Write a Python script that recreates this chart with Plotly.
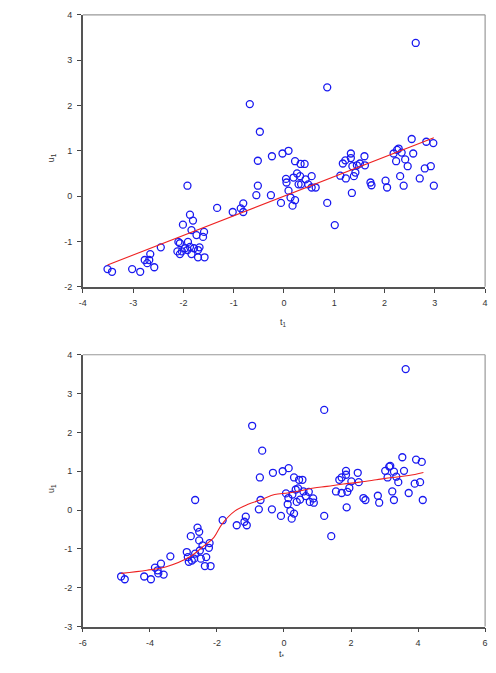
import plotly.graph_objects as go

# ---- Top panel data ----
top_x = [-3.51, -3.42, -3.02, -2.86, -2.77, -2.72, -2.68, -2.66, -2.58, -2.45,
         -2.10, -2.07, -2.12, -2.07, -2.01, -1.92, -1.87, -1.81, -1.84, -1.91,
         -1.87, -1.92, -1.84, -1.79, -1.74, -1.71, -1.71, -1.68, -1.61, -1.59,
         -1.58, -1.97, -2.03, -1.33, -1.02, -0.86, -0.81, -0.81, -0.68, -0.48,
         -0.52, -0.52, -0.55, -0.26, -0.24, -0.06, -0.03, 0.09, 0.04, 0.05,
         0.09, 0.13, 0.17, 0.22, 0.19, 0.22, 0.26, 0.29, 0.32, 0.33,
         0.41, 0.34, 0.43, 0.48, 0.55, 0.55, 0.63, 0.86, 0.86, 1.01,
         1.12, 1.17, 1.22, 1.23, 1.33, 1.33, 1.35, 1.36, 1.39, 1.42,
         1.45, 1.51, 1.60, 1.61, 1.72, 1.74, 2.02, 2.05, 2.18, 2.23,
         2.25, 2.28, 2.31, 2.34, 2.38, 2.41, 2.46, 2.54, 2.57, 2.62,
         2.70, 2.80, 2.83, 2.92, 2.97, 2.98]
top_y = [-1.61, -1.67, -1.61, -1.67, -1.41, -1.48, -1.41, -1.28, -1.57, -1.13,
         -1.01, -1.04, -1.22, -1.28, -0.63, 0.23, -0.41, -0.54, -0.75, -1.01,
         -1.12, -1.19, -1.28, -1.15, -0.86, -1.19, -1.35, -1.13, -0.90, -0.79,
         -1.35, -1.15, -1.22, -0.26, -0.35, -0.27, -0.16, -0.35, 2.03, 1.42,
         0.78, 0.23, 0.02, 0.02, 0.88, -0.15, 0.94, 1.00, 0.38, 0.30,
         0.12, -0.03, -0.21, -0.09, 0.41, 0.77, 0.50, 0.26, 0.44, 0.71,
         0.71, 0.26, 0.37, 0.26, 0.44, 0.19, 0.19, 2.40, -0.15, -0.64,
         0.45, 0.72, 0.79, 0.39, 0.94, 0.84, 0.07, 0.66, 0.44, 0.52,
         0.68, 0.72, 0.88, 0.68, 0.30, 0.24, 0.34, 0.19, 0.94, 0.77,
         1.02, 1.05, 0.44, 0.96, 0.23, 0.81, 0.66, 1.26, 0.94, 3.38,
         0.39, 0.61, 1.20, 0.66, 1.17, 0.23]
top_line_x = [-3.51, 2.98]
top_line_y = [-1.52, 1.29]

# ---- Bottom panel data ----
bot_x = [-4.86, -4.75, -4.17, -3.97, -3.85, -3.77, -3.75, -3.67, -3.59, -3.39,
         -2.90, -2.87, -2.84, -2.78, -2.65, -2.65, -2.58, -2.53, -2.53, -2.51,
         -2.48, -2.43, -2.36, -2.32, -2.24, -2.22, -2.19, -2.68, -2.75, -1.83,
         -1.41, -1.18, -1.14, -1.11, -0.95, -0.65, -0.72, -0.70, -0.75, -0.36,
         -0.33, -0.09, -0.04, 0.14, 0.06, 0.13, 0.11, 0.19, 0.23, 0.30,
         0.30, 0.25, 0.35, 0.38, 0.42, 0.45, 0.48, 0.55, 0.58, 0.65,
         0.74, 0.77, 0.87, 0.89, 1.20, 1.20, 1.41, 1.55, 1.65, 1.72,
         1.72, 1.85, 1.85, 1.87, 1.89, 1.95, 2.01, 2.20, 2.23, 2.37,
         2.43, 2.80, 2.84, 3.02, 3.09, 3.14, 3.17, 3.23, 3.28, 3.28,
         3.35, 3.41, 3.53, 3.58, 3.63, 3.72, 3.90, 3.94, 4.06, 4.11, 4.14]
bot_y = [-1.71, -1.78, -1.71, -1.78, -1.48, -1.55, -1.63, -1.38, -1.66, -1.19,
         -1.08, -1.21, -1.33, -0.67, 0.26, -1.12, -0.45, -0.56, -0.78, -1.04,
         -1.25, -0.91, -1.44, -1.21, -0.97, -0.85, -1.44, -1.25, -1.30, -0.26,
         -0.39, -0.30, -0.17, -0.39, 2.17, 1.53, 0.84, 0.26, 0.02, 0.02,
         0.96, -0.15, 1.00, 1.08, 0.43, 0.31, 0.15, -0.02, -0.22, -0.09,
         0.84, 0.40, 0.53, 0.21, 0.56, 0.78, 0.27, 0.78, 0.48, 0.36,
         0.47, 0.21, 0.30, 0.19, 2.58, -0.15, -0.67, 0.48, 0.78, 0.84,
         0.44, 1.01, 0.91, 0.07, 0.47, 0.57, 0.74, 0.96, 0.72, 0.31,
         0.26, 0.37, 0.19, 1.01, 0.84, 1.12, 1.14, 0.48, 0.99, 0.26,
         0.86, 0.72, 1.36, 1.01, 3.63, 0.44, 0.68, 1.30, 0.72, 1.24, 0.26]
bot_line_x = [-4.86, -4.09, -3.51, -2.82, -2.43, -2.09, -1.85, -1.46, -1.07, -0.67,
              -0.28, 0.11, 0.50, 0.89, 1.28, 1.77, 2.26, 2.75, 3.23, 3.72, 4.16]
bot_line_y = [-1.63, -1.55, -1.46, -1.21, -0.95, -0.70, -0.36, -0.02, 0.15, 0.27,
              0.40, 0.44, 0.50, 0.57, 0.61, 0.67, 0.72, 0.78, 0.84, 0.89, 0.97]

top_xticks = [-4, -3, -2, -1, 0, 1, 2, 3, 4]
top_yticks = [-2, -1, 0, 1, 2, 3, 4]
bot_xticks = [-6, -4, -2, 0, 2, 4, 6]
bot_yticks = [-3, -2, -1, 0, 1, 2, 3, 4]

W, H = 496, 673
xdom = [80 / W, 488 / W]
top_ydom = [1 - 286 / H, 1 - 10 / H]
bot_ydom = [1 - 631 / H, 1 - 355 / H]

marker = dict(symbol="circle-open", size=7, color="#1a1af0", line=dict(width=1.3))
line = dict(color="#ee2222", width=1.1)

fig = go.Figure()
fig.add_trace(go.Scatter(x=top_x, y=top_y, mode="markers", marker=marker, xaxis="x", yaxis="y"))
fig.add_trace(go.Scatter(x=top_line_x, y=top_line_y, mode="lines", line=line, xaxis="x", yaxis="y"))
fig.add_trace(go.Scatter(x=bot_x, y=bot_y, mode="markers", marker=marker, xaxis="x2", yaxis="y2"))
fig.add_trace(go.Scatter(x=bot_line_x, y=bot_line_y, mode="lines",
                         line=dict(color="#ee2222", width=1.1, shape="spline"),
                         xaxis="x2", yaxis="y2"))

tickfont = dict(family="Liberation Sans, Arial", size=9, color="#333")


def ax(ticks, rng, dom, anchor):
    return dict(domain=dom, range=rng, anchor=anchor, tickvals=ticks,
                ticktext=[str(t) for t in ticks], ticks="outside", ticklen=4,
                tickwidth=1, tickcolor="#444", linecolor="#555", linewidth=1.6,
                showgrid=False, zeroline=False, tickfont=tickfont, fixedrange=True,
                ticklabelstandoff=3)


fig.update_layout(
    width=W, height=H, margin=dict(l=0, r=0, t=0, b=0),
    paper_bgcolor="white", plot_bgcolor="white", showlegend=False,
    xaxis=ax(top_xticks, [-4, 4], xdom, "y"),
    yaxis=ax(top_yticks, [-2, 4], top_ydom, "x"),
    xaxis2=ax(bot_xticks, [-6, 6], xdom, "y2"),
    yaxis2=ax(bot_yticks, [-3, 4], bot_ydom, "x2"),
)

# lighter top/right frame lines
for xr, yr in [("x domain", "y domain"), ("x2 domain", "y2 domain")]:
    fig.add_shape(type="line", xref=xr, yref=yr, x0=0, x1=1, y0=1, y1=1,
                  line=dict(color="#999", width=1.2))
    fig.add_shape(type="line", xref=xr, yref=yr, x0=1, x1=1, y0=0, y1=1,
                  line=dict(color="#999", width=1.2))

titlefont = dict(family="Liberation Sans, Arial", size=9, color="#333")
fig.add_annotation(text="t<sub>1</sub>", xref="paper", yref="paper", x=284 / W, y=1 - 322 / H,
                   showarrow=False, font=titlefont)
fig.add_annotation(text="u<sub>1</sub>", xref="paper", yref="paper", x=40 / W, y=1 - 148 / H,
                   showarrow=False, font=titlefont, textangle=-90)
fig.add_annotation(text="t<sub>*</sub>", xref="paper", yref="paper", x=282 / W, y=1 - 667 / H,
                   showarrow=False, font=titlefont)
fig.add_annotation(text="u<sub>1</sub>", xref="paper", yref="paper", x=40 / W, y=1 - 497 / H,
                   showarrow=False, font=titlefont, textangle=-90)

fig.write_html("out.html")
